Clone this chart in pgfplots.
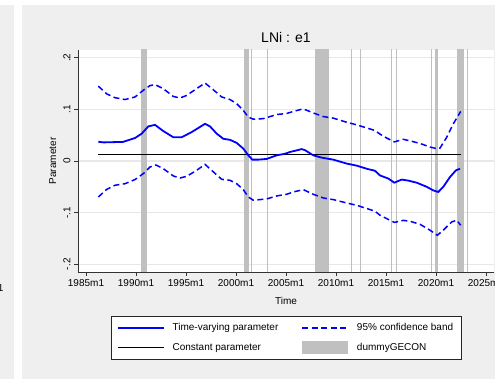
\documentclass[border=0pt]{standalone}
\usepackage{fontspec}
\setmainfont{Liberation Sans}
\usepackage{pgfplots}
\pgfplotsset{compat=1.18}
\definecolor{bg}{RGB}{239,239,239}
\definecolor{shade}{RGB}{192,192,192}
\definecolor{gridc}{RGB}{232,232,232}
\pgfplotsset{
  mylegline/.style={legend image code/.code={\draw[##1] (0pt,0pt) -- (46pt,0pt);}},
  mylegarea/.style={legend image code/.code={\fill[##1] (0pt,-6.3pt) rectangle (46pt,6.3pt);}},
}
\begin{document}
\begin{tikzpicture}[x=1pt,y=1pt]
\path[use as bounding box] (0,0) rectangle (495,379);
\fill[bg] (0,0) rectangle (14,374);
\fill[bg] (22,0) rectangle (495,374);
\node[font=\fontsize{10}{12}\selectfont, anchor=base east, inner sep=0pt] at (3.6,87) {1};
\begin{axis}[
  at={(78pt,107pt)}, anchor=south west, scale only axis,
  width=416pt, height=222pt,
  xmin=1984.2, xmax=2025.8, ymin=-0.215, ymax=0.215,
  axis background/.style={fill=white},
  axis x line*=bottom, axis y line*=left,
  axis line style={black!80, line width=0.8pt},
  tick style={black!80, line width=0.8pt},
  tick align=outside, major tick length=4pt,
  xtick={1985,1990,1995,2000,2005,2010,2015,2020,2025},
  xticklabels={1985m1,1990m1,1995m1,2000m1,2005m1,2010m1,2015m1,2020m1,2025m1},
  ytick={-0.2,-0.1,0,0.1,0.2},
  yticklabels={-.2,-.1,0,.1,.2},
  /pgf/number format/assume math mode=true,
  ticklabel style={font=\fontsize{10}{12}\selectfont},
  yticklabel style={rotate=90, anchor=south},
  ymajorgrids, grid style={gridc, line width=1.2pt},
  title={LNi : e1},
  title style={font=\fontsize{14}{16}\selectfont, at={(axis description cs:0.5,1)}, anchor=base, yshift=1pt},
  xlabel={Time},
  xlabel style={font=\fontsize{10}{12}\selectfont, at={(axis description cs:0.5,0)}, anchor=north, yshift=-22pt},
  ylabel={Parameter},
  ylabel style={font=\fontsize{10}{12}\selectfont, at={([xshift=-22pt]axis description cs:0,0.5)}, rotate=0, anchor=base},
  legend columns=2,
  legend style={at={(axis description cs:0.5,0)}, anchor=north, yshift=-44pt,
    draw=black!85, fill=white, inner xsep=6pt, inner ysep=5.5pt,
    font=\fontsize{10}{12}\selectfont, cells={anchor=west}, row sep=6.5pt,
    /tikz/every odd column/.append style={column sep=6pt},
    /tikz/every even column/.append style={column sep=21pt}},
]
% dummyGECON shaded periods
\addplot[fill=shade, draw=none, forget plot] coordinates {(1990.50,-1) (1990.50,1) (1991.12,1) (1991.12,-1)} -- cycle;
\addplot[fill=shade, draw=none, forget plot] coordinates {(2000.78,-1) (2000.78,1) (2001.30,1) (2001.30,-1)} -- cycle;
\addplot[fill=shade, draw=none, forget plot] coordinates {(2001.52,-1) (2001.52,1) (2001.62,1) (2001.62,-1)} -- cycle;
\addplot[fill=shade, draw=none, forget plot] coordinates {(2003.08,-1) (2003.08,1) (2003.17,1) (2003.17,-1)} -- cycle;
\addplot[fill=shade, draw=none, forget plot] coordinates {(2007.90,-1) (2007.90,1) (2009.33,1) (2009.33,-1)} -- cycle;
\addplot[fill=shade, draw=none, forget plot] coordinates {(2011.54,-1) (2011.54,1) (2011.62,1) (2011.62,-1)} -- cycle;
\addplot[fill=shade, draw=none, forget plot] coordinates {(2012.38,-1) (2012.38,1) (2012.46,1) (2012.46,-1)} -- cycle;
\addplot[fill=shade, draw=none, forget plot] coordinates {(2015.54,-1) (2015.54,1) (2015.62,1) (2015.62,-1)} -- cycle;
\addplot[fill=shade, draw=none, forget plot] coordinates {(2016.04,-1) (2016.04,1) (2016.12,1) (2016.12,-1)} -- cycle;
\addplot[fill=shade, draw=none, forget plot] coordinates {(2019.54,-1) (2019.54,1) (2019.62,1) (2019.62,-1)} -- cycle;
\addplot[fill=shade, draw=none, forget plot] coordinates {(2019.92,-1) (2019.92,1) (2020.22,1) (2020.22,-1)} -- cycle;
\addplot[fill=shade, draw=none, forget plot] coordinates {(2022.08,-1) (2022.08,1) (2022.75,1) (2022.75,-1)} -- cycle;
\addplot[fill=shade, draw=none, forget plot] coordinates {(2023.08,-1) (2023.08,1) (2023.16,1) (2023.16,-1)} -- cycle;
% upper band
\addplot[blue, line width=1.5pt, dash pattern=on 6pt off 3.5pt, forget plot] coordinates {
(1986.23,0.145) (1987.07,0.130) (1987.9,0.1226) (1988.9,0.119) (1989.9,0.124) (1990.73,0.137) (1991.4,0.146) (1991.9,0.148) (1992.73,0.140) (1993.73,0.125) (1994.4,0.122) (1995.07,0.127) (1995.9,0.138) (1996.9,0.151) (1997.73,0.138) (1998.57,0.124) (1999.4,0.119) (2000.07,0.111) (2000.73,0.098) (2001.23,0.085) (2001.73,0.081) (2002.73,0.082) (2004.07,0.090) (2005.07,0.092) (2005.73,0.096) (2006.73,0.101) (2007.73,0.093) (2008.73,0.086) (2009.73,0.083) (2011.07,0.075) (2012.07,0.070) (2013.07,0.064) (2013.9,0.059) (2014.4,0.052) (2015.07,0.0445) (2015.83,0.037) (2016.73,0.042) (2017.4,0.039) (2018.4,0.034) (2019.4,0.027) (2020.07,0.024) (2020.4,0.025) (2021.07,0.046) (2021.73,0.072) (2022.47,0.096)};
% lower band
\addplot[blue, line width=1.5pt, dash pattern=on 6pt off 3.5pt, forget plot] coordinates {
(1986.23,-0.0697) (1987.07,-0.055) (1987.9,-0.047) (1988.9,-0.044) (1989.9,-0.036) (1990.73,-0.0245) (1991.4,-0.0116) (1992.0,-0.0077) (1992.73,-0.0148) (1993.73,-0.029) (1994.4,-0.033) (1995.07,-0.0297) (1996.07,-0.018) (1996.9,-0.0065) (1997.73,-0.021) (1998.57,-0.0355) (1999.4,-0.0374) (2000.07,-0.044) (2000.73,-0.0555) (2001.23,-0.0697) (2001.73,-0.076) (2003.07,-0.0735) (2004.07,-0.0677) (2005.07,-0.0645) (2005.73,-0.060) (2006.73,-0.0555) (2007.73,-0.0645) (2008.73,-0.0716) (2009.73,-0.0748) (2011.07,-0.0813) (2012.07,-0.0858) (2013.07,-0.092) (2013.9,-0.0974) (2014.4,-0.105) (2015.07,-0.1116) (2015.83,-0.119) (2016.73,-0.115) (2017.4,-0.1168) (2018.4,-0.1226) (2019.4,-0.134) (2020.13,-0.1439) (2020.73,-0.134) (2021.57,-0.118) (2022.07,-0.1148) (2022.47,-0.1245)};
% constant parameter
\addplot[black, line width=1.5pt, forget plot] coordinates {(1986.23,0.0129) (2022.47,0.0129)};
% time-varying parameter
\addplot[blue, line width=1.8pt, forget plot] coordinates {
(1986.23,0.0374) (1986.75,0.036) (1988.7,0.037) (1989.9,0.0445) (1990.57,0.053) (1991.23,0.067) (1991.9,0.070) (1992.73,0.058) (1993.73,0.046) (1994.57,0.046) (1995.57,0.056) (1996.4,0.066) (1996.9,0.072) (1997.4,0.067) (1998.07,0.053) (1998.73,0.043) (1999.4,0.041) (2000.07,0.035) (2000.73,0.024) (2001.23,0.011) (2001.63,0.0026) (2002.23,0.0026) (2003.07,0.004) (2004.07,0.011) (2004.9,0.014) (2005.4,0.0174) (2005.73,0.019) (2006.57,0.023) (2006.9,0.021) (2007.73,0.011) (2008.57,0.0065) (2009.73,0.0026) (2011.07,-0.005) (2012.07,-0.009) (2013.07,-0.015) (2013.9,-0.019) (2014.4,-0.028) (2015.23,-0.034) (2015.83,-0.042) (2016.57,-0.036) (2017.23,-0.038) (2018.07,-0.042) (2019.07,-0.050) (2019.73,-0.057) (2020.23,-0.060) (2020.73,-0.050) (2021.4,-0.031) (2022.0,-0.018) (2022.4,-0.015)};
% legend
\addlegendimage{mylegline, blue, line width=1.8pt}
\addlegendentry{Time-varying parameter}
\addlegendimage{mylegline, blue, line width=1.6pt, dash pattern=on 6pt off 3.5pt}
\addlegendentry{95\% confidence band}
\addlegendimage{mylegline, black, line width=1.5pt}
\addlegendentry{Constant parameter}
\addlegendimage{mylegarea, fill=shade, draw=none}
\addlegendentry{dummyGECON}
\end{axis}
\end{tikzpicture}
\end{document}
